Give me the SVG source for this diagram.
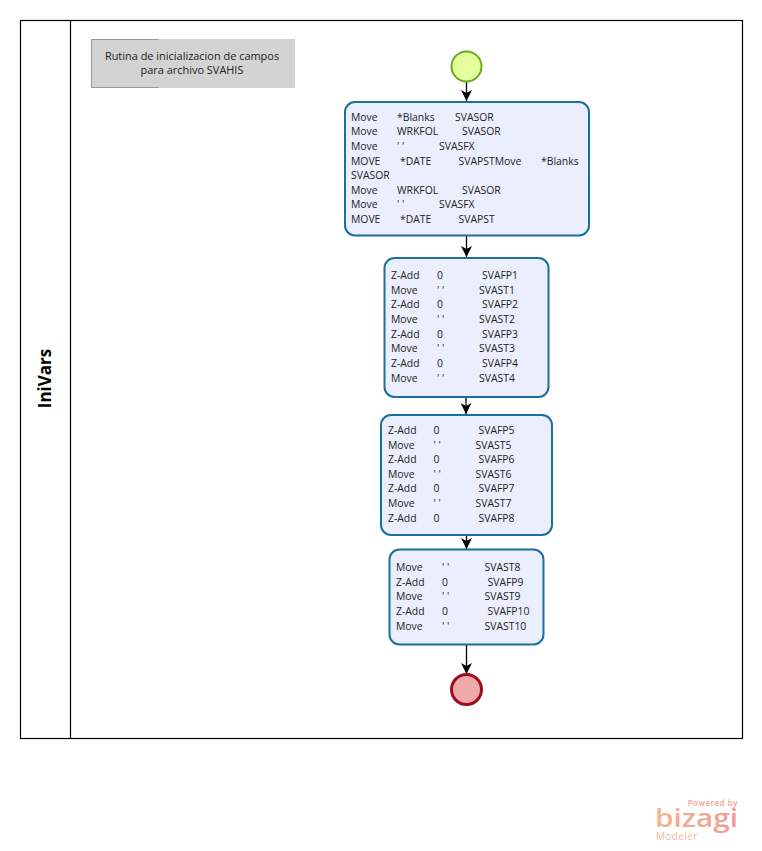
<svg xmlns="http://www.w3.org/2000/svg" width="762" height="851" viewBox="0 0 762 851">
<style>
text{font-family:"Open Sans","Noto Sans","Liberation Sans",sans-serif;font-size:10.4px;fill:#222}
.task{fill:#ebefFD;stroke:#1a6f9c;stroke-width:2}
.line{fill:none;stroke:#000;stroke-width:1.3}
.pool{fill:none;stroke:#000;stroke-width:1.2}
</style>
<defs>
<marker id="arrow" markerUnits="userSpaceOnUse" markerWidth="12" markerHeight="11" refX="11" refY="5.5" orient="auto">
<path d="M0 0L11 5.5L0 11L3 5.5Z" fill="#000"/>
</marker>
<linearGradient id="logo" x1="0" y1="0" x2="1" y2="0"><stop offset="0" stop-color="#f6b48f"/><stop offset="1" stop-color="#f09a9a"/></linearGradient>
</defs>
<rect width="762" height="851" fill="#fff"/>
<g id="pool">
<rect class="pool" x="20.5" y="20.5" width="722" height="718"/>
<line class="pool" x1="70.5" y1="20.5" x2="70.5" y2="738.5"/>
<text transform="translate(51,378.500) rotate(-90)" text-anchor="middle" style="font-size:17px;font-weight:700;fill:#000">IniVars</text>
</g>
<g id="connectors">
<line class="line" x1="466.5" y1="82" x2="466.5" y2="101" marker-end="url(#arrow)"/>
<line class="line" x1="466.5" y1="236" x2="466.5" y2="257" marker-end="url(#arrow)"/>
<line class="line" x1="466" y1="397" x2="466" y2="414" marker-end="url(#arrow)"/>
<line class="line" x1="466.5" y1="535" x2="466.5" y2="549" marker-end="url(#arrow)"/>
<line class="line" x1="466.5" y1="645" x2="466.5" y2="674" marker-end="url(#arrow)"/>
</g>
<g id="note">
<rect x="91" y="39" width="204" height="49" fill="#d3d3d3"/>
<path d="M158.5 39.5H91.5V87.5H158.5" fill="none" stroke="#999" stroke-width="1"/>
<text x="192" y="60" text-anchor="middle" style="font-size:10.950px">Rutina de inicializacion de campos</text>
<text x="192" y="74" text-anchor="middle" style="font-size:10.950px">para archivo SVAHIS</text>
</g>
<g id="start"><circle cx="466.5" cy="66.500" r="15" fill="#e4ff9c" stroke="#6ba81e" stroke-width="2"/></g>
<g id="task1">
<rect class="task" x="345" y="102" width="244" height="133.500" rx="10"/>
<text y="121"><tspan x="351">Move</tspan><tspan x="397">*Blanks</tspan><tspan x="455">SVASOR</tspan></text>
<text y="135"><tspan x="351">Move</tspan><tspan x="397">WRKFOL</tspan><tspan x="462">SVASOR</tspan></text>
<text y="150"><tspan x="351">Move</tspan><tspan x="397">' '</tspan><tspan x="439">SVASFX</tspan></text>
<text y="165"><tspan x="351">MOVE</tspan><tspan x="400">*DATE</tspan><tspan x="458.500">SVAPSTMove</tspan><tspan x="541">*Blanks</tspan></text>
<text y="179" x="351">SVASOR</text>
<text y="194"><tspan x="351">Move</tspan><tspan x="397">WRKFOL</tspan><tspan x="462">SVASOR</tspan></text>
<text y="208"><tspan x="351">Move</tspan><tspan x="397">' '</tspan><tspan x="439">SVASFX</tspan></text>
<text y="223"><tspan x="351">MOVE</tspan><tspan x="400">*DATE</tspan><tspan x="458.500">SVAPST</tspan></text>
</g>
<g id="task2">
<rect class="task" x="384.500" y="258" width="164" height="139" rx="10"/>
<text y="279"><tspan x="391">Z-Add</tspan><tspan x="437">0</tspan><tspan x="482">SVAFP1</tspan></text>
<text y="294"><tspan x="391">Move</tspan><tspan x="437">' '</tspan><tspan x="479">SVAST1</tspan></text>
<text y="308"><tspan x="391">Z-Add</tspan><tspan x="437">0</tspan><tspan x="482">SVAFP2</tspan></text>
<text y="323"><tspan x="391">Move</tspan><tspan x="437">' '</tspan><tspan x="479">SVAST2</tspan></text>
<text y="338"><tspan x="391">Z-Add</tspan><tspan x="437">0</tspan><tspan x="482">SVAFP3</tspan></text>
<text y="352"><tspan x="391">Move</tspan><tspan x="437">' '</tspan><tspan x="479">SVAST3</tspan></text>
<text y="367"><tspan x="391">Z-Add</tspan><tspan x="437">0</tspan><tspan x="482">SVAFP4</tspan></text>
<text y="382"><tspan x="391">Move</tspan><tspan x="437">' '</tspan><tspan x="479">SVAST4</tspan></text>
</g>
<g id="task3">
<rect class="task" x="381" y="415" width="171" height="120" rx="10"/>
<text y="434"><tspan x="388">Z-Add</tspan><tspan x="433.500">0</tspan><tspan x="478.500">SVAFP5</tspan></text>
<text y="449"><tspan x="388">Move</tspan><tspan x="433.500">' '</tspan><tspan x="475.500">SVAST5</tspan></text>
<text y="463"><tspan x="388">Z-Add</tspan><tspan x="433.500">0</tspan><tspan x="478.500">SVAFP6</tspan></text>
<text y="478"><tspan x="388">Move</tspan><tspan x="433.500">' '</tspan><tspan x="475.500">SVAST6</tspan></text>
<text y="492"><tspan x="388">Z-Add</tspan><tspan x="433.500">0</tspan><tspan x="478.500">SVAFP7</tspan></text>
<text y="507"><tspan x="388">Move</tspan><tspan x="433.500">' '</tspan><tspan x="475.500">SVAST7</tspan></text>
<text y="522"><tspan x="388">Z-Add</tspan><tspan x="433.500">0</tspan><tspan x="478.500">SVAFP8</tspan></text>
</g>
<g id="task4">
<rect class="task" x="389.500" y="549.500" width="154" height="95" rx="10"/>
<text y="571"><tspan x="396">Move</tspan><tspan x="442">' '</tspan><tspan x="484.500">SVAST8</tspan></text>
<text y="586"><tspan x="396">Z-Add</tspan><tspan x="442">0</tspan><tspan x="487.500">SVAFP9</tspan></text>
<text y="600"><tspan x="396">Move</tspan><tspan x="442">' '</tspan><tspan x="484.500">SVAST9</tspan></text>
<text y="615"><tspan x="396">Z-Add</tspan><tspan x="442">0</tspan><tspan x="487.500">SVAFP10</tspan></text>
<text y="630"><tspan x="396">Move</tspan><tspan x="442">' '</tspan><tspan x="484.500">SVAST10</tspan></text>
</g>
<g id="end"><circle cx="466.500" cy="689.500" r="15" fill="#eeaaaa" stroke="#a00d1c" stroke-width="3"/></g>
<g id="logo-mark">
<text x="738" y="806" text-anchor="end" style="font-size:8px;font-weight:600;fill:#f3a58f;letter-spacing:.5px">Powered by</text>
<text x="655" y="827" textLength="83" lengthAdjust="spacingAndGlyphs" style="font-size:25px;font-weight:600;fill:url(#logo)">bizagi</text>
<text x="656" y="840" style="font-size:10px;fill:#f3b8a3;letter-spacing:.4px">Modeler</text>
</g>
</svg>
